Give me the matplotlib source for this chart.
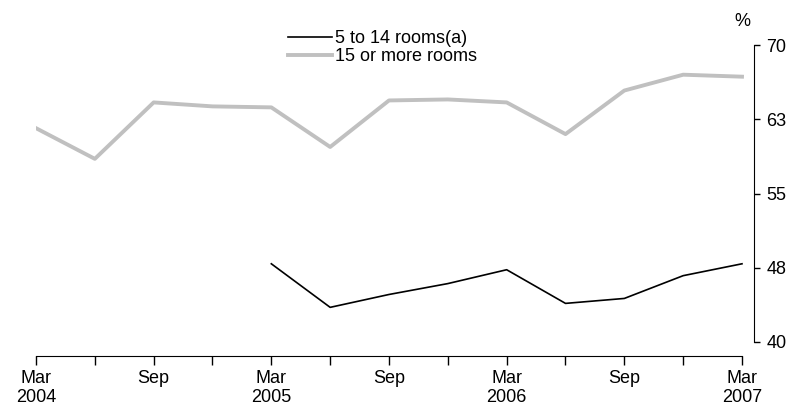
import numpy as np
import matplotlib.pyplot as plt

plt.rcParams['font.family'] = ['Liberation Sans', 'DejaVu Sans']

# 季度: Mar 2004 .. Mar 2007
quarters = ['Mar\n2004', '', 'Sep', '', 'Mar\n2005', '', 'Sep', '', 'Mar\n2006', '', 'Sep', '', 'Mar\n2007']
rooms_15_plus = [61.6, 58.5, 64.2, 63.8, 63.7, 59.7, 64.4, 64.5, 64.2, 61.0, 65.4, 67.0, 66.8]
rooms_5_14 = [None, None, None, None, 47.9, 43.5, 44.8, 45.9, 47.3, 43.9, 44.4, 46.7, 47.9]
y_ticks = [40, 47.5, 55, 62.5, 70]
y_labels = ['40', '48', '55', '63', '70']

x = np.arange(len(quarters))
small = np.array([np.nan if v is None else v for v in rooms_5_14], dtype=float)

fig = plt.figure(figsize=(7.91, 4.08), dpi=100)
ax = fig.add_axes([36/791, 66/408, (754-36)/791, (342-45)/408])

l1, = ax.plot(x, small, color='black', lw=1.2, label='5 to 14 rooms(a)')
l2, = ax.plot(x, rooms_15_plus, color='#c0c0c0', lw=2.8, label='15 or more rooms')

ax.set_xlim(0, 12 + 12/58.8)
ax.set_ylim(40, 70)

ax.spines['left'].set_visible(False)
ax.spines['top'].set_visible(False)
ax.spines['bottom'].set_position(('outward', 10))
ax.spines['bottom'].set_bounds(0, 12)
ax.yaxis.tick_right()
ax.set_yticks(y_ticks)
ax.set_yticklabels(y_labels)
ax.set_xticks(x)
ax.set_xticklabels(quarters, linespacing=1.15)
ax.tick_params(axis='both', labelsize=13, width=1, direction='out', colors='black')
ax.tick_params(axis='y', length=4, pad=5)
ax.tick_params(axis='x', length=6.5, pad=4)

fig.text(742/791, 1 - 21/408, '%', fontsize=13, ha='center', va='center')

fig.legend(handles=[l1, l2], loc='upper left', bbox_to_anchor=(281/791, 1 - 23/408),
           frameon=False, fontsize=13, handlelength=2.4, handletextpad=0.2,
           labelspacing=0.05, borderaxespad=0)

fig.savefig('out.png', dpi=100)
